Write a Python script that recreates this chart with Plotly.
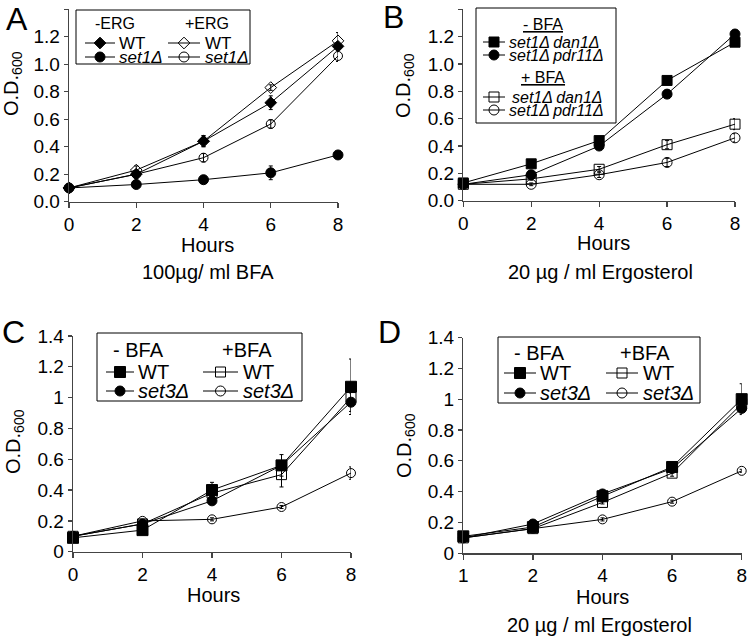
import plotly.graph_objects as go

W, H = 752, 639
FONT = "Liberation Sans, Arial, sans-serif"

# ---------------- data ----------------
hours_abc = [0, 2, 4, 6, 8]
hours_d = ["1", "2", "4", "6", "8"]
yticks_ab = [0, 0.2, 0.4, 0.6, 0.8, 1.0, 1.2, 1.4]
yticks_cd = [0, 0.2, 0.4, 0.6, 0.8, 1.0, 1.2, 1.4]

# Panel A (100 ug/ml BFA)
a_wt_minus = [0.10, 0.20, 0.44, 0.72, 1.13]
a_wt_minus_err = [0.01, 0.02, 0.04, 0.05, 0.03]
a_set1_minus = [0.10, 0.125, 0.16, 0.21, 0.34]
a_set1_minus_err = [0.01, 0.01, 0.01, 0.05, 0.02]
a_wt_plus = [0.10, 0.23, 0.44, 0.83, 1.17]
a_wt_plus_err = [0.01, 0.03, 0.04, 0.02, 0.06]
a_set1_plus = [0.10, 0.20, 0.32, 0.565, 1.06]
a_set1_plus_err = [0.01, 0.02, 0.03, 0.03, 0.04]

# Panel B (20 ug/ml Ergosterol)
b_dan1_minus = [0.13, 0.27, 0.44, 0.88, 1.16]
b_dan1_minus_err = [0.01, 0.02, 0.02, 0.02, 0.02]
b_pdr11_minus = [0.12, 0.19, 0.40, 0.78, 1.22]
b_pdr11_minus_err = [0.01, 0.02, 0.02, 0.02, 0.02]
b_dan1_plus = [0.12, 0.16, 0.23, 0.41, 0.56]
b_dan1_plus_err = [0.01, 0.01, 0.02, 0.03, 0.04]
b_pdr11_plus = [0.12, 0.12, 0.19, 0.28, 0.46]
b_pdr11_plus_err = [0.01, 0.01, 0.02, 0.03, 0.03]

# Panel C
c_wt_minus = [0.09, 0.14, 0.40, 0.56, 1.07]
c_wt_minus_err = [0.01, 0.02, 0.05, 0.07, 0.18]
c_set3_minus = [0.10, 0.18, 0.33, 0.56, 0.97]
c_set3_minus_err = [0.01, 0.01, 0.02, 0.03, 0.06]
c_wt_plus = [0.10, 0.18, 0.38, 0.50, 1.00]
c_wt_plus_err = [0.01, 0.01, 0.02, 0.08, 0.04]
c_set3_plus = [0.10, 0.20, 0.21, 0.29, 0.51]
c_set3_plus_err = [0.01, 0.01, 0.01, 0.01, 0.04]

# Panel D (20 ug/ml Ergosterol)
d_wt_minus = [0.11, 0.17, 0.37, 0.56, 1.00]
d_wt_minus_err = [0.01, 0.01, 0.02, 0.02, 0.10]
d_set3_minus = [0.10, 0.19, 0.385, 0.55, 0.94]
d_set3_minus_err = [0.01, 0.01, 0.01, 0.02, 0.02]
d_wt_plus = [0.10, 0.16, 0.33, 0.52, 0.97]
d_wt_plus_err = [0.01, 0.01, 0.01, 0.02, 0.02]
d_set3_plus = [0.10, 0.16, 0.22, 0.335, 0.535]
d_set3_plus_err = [0.01, 0.01, 0.01, 0.01, 0.01]

# ---------------- layout helpers (pixel -> paper) ----------------
def xd(p0, p1):
    return [p0 / W, p1 / W]

def yd(ptop, pbot):
    return [1 - pbot / H, 1 - ptop / H]

panels = {
    1: dict(x=xd(69, 338), y=yd(9.2, 201.7)),
    2: dict(x=xd(463.3, 735), y=yd(9.4, 200.7)),
    3: dict(x=xd(73, 351), y=yd(335.9, 551.7)),
    4: dict(x=xd(463.3, 741.7), y=yd(337.5, 553.3)),
}

fig = go.Figure()

def series(n, xs, ys, err, symbol, size):
    fig.add_trace(go.Scatter(
        x=xs, y=ys, mode="lines+markers",
        xaxis=f"x{n}" if n > 1 else "x", yaxis=f"y{n}" if n > 1 else "y",
        line=dict(color="black", width=1),
        marker=dict(symbol=symbol, size=size, color="black",
                    line=dict(color="black", width=1)),
        error_y=dict(type="data", array=err, color="black", thickness=1, width=2),
        cliponaxis=False, showlegend=False, hoverinfo="skip",
    ))

# Panel A
series(1, hours_abc, a_set1_minus, a_set1_minus_err, "circle", 10)
series(1, hours_abc, a_wt_minus, a_wt_minus_err, "diamond", 9)
series(1, hours_abc, a_wt_plus, a_wt_plus_err, "diamond-open", 9)
series(1, hours_abc, a_set1_plus, a_set1_plus_err, "circle-open", 9)
# Panel B
series(2, hours_abc, b_dan1_minus, b_dan1_minus_err, "square", 10)
series(2, hours_abc, b_pdr11_minus, b_pdr11_minus_err, "circle", 10)
series(2, hours_abc, b_dan1_plus, b_dan1_plus_err, "square-open", 10)
series(2, hours_abc, b_pdr11_plus, b_pdr11_plus_err, "circle-open", 10)
# Panel C
series(3, hours_abc, c_wt_minus, c_wt_minus_err, "square", 11)
series(3, hours_abc, c_set3_minus, c_set3_minus_err, "circle", 10)
series(3, hours_abc, c_wt_plus, c_wt_plus_err, "square-open", 10)
series(3, hours_abc, c_set3_plus, c_set3_plus_err, "circle-open", 9)
# Panel D
series(4, hours_d, d_wt_minus, d_wt_minus_err, "square", 11)
series(4, hours_d, d_set3_minus, d_set3_minus_err, "circle", 10)
series(4, hours_d, d_wt_plus, d_wt_plus_err, "square-open", 10)
series(4, hours_d, d_set3_plus, d_set3_plus_err, "circle-open", 9)

# ---------------- legend keys on an overlay pixel axis ----------------
def key(x0, x1, y, symbol, size):
    fig.add_trace(go.Scatter(
        x=[x0, x1], y=[y, y], mode="lines", xaxis="x5", yaxis="y5",
        line=dict(color="black", width=1), showlegend=False, hoverinfo="skip"))
    fig.add_trace(go.Scatter(
        x=[(x0 + x1) / 2], y=[y], mode="markers", xaxis="x5", yaxis="y5",
        marker=dict(symbol=symbol, size=size, color="black",
                    line=dict(color="black", width=1)),
        showlegend=False, hoverinfo="skip"))

shapes = []
annotations = []

def box(x0, y0, x1, y1):
    shapes.append(dict(type="rect", xref="x5", yref="y5", x0=x0, y0=y0, x1=x1, y1=y1,
                       line=dict(color="black", width=1), fillcolor="white", layer="below"))

def text(x, y, s, size=20, xanchor="center", angle=0):
    annotations.append(dict(x=x, y=y, xref="x5", yref="y5", text=s, showarrow=False,
                            xanchor=xanchor, yanchor="middle", textangle=angle,
                            font=dict(family=FONT, size=size, color="black")))

TS = "\u2009"

# Legend A
box(76, 10, 250, 64)
text(115, 23, "-ERG", 16)
text(207, 23, "+ERG", 16)
key(85, 115, 43, "diamond", 9)
text(117, 43, "WT", 17, "left")
key(85, 115, 57, "circle", 10)
text(117, 57, "<i>set1Δ</i>", 17, "left")
key(168, 200, 43, "diamond-open", 9)
text(203, 43, "WT", 17, "left")
key(168, 200, 57, "circle-open", 10)
text(203, 57, "<i>set1Δ</i>", 17, "left")

# Legend B
box(476, 8, 616, 123)
text(543, 24, "<u>- BFA</u>", 16)
key(483, 505, 42, "square", 10)
text(507, 42, "<i>set1Δ" + TS + "dan1Δ</i>", 16, "left")
key(483, 505, 55, "circle", 10)
text(507, 55, "<i>set1Δ" + TS + "pdr11Δ</i>", 16, "left")
text(543, 77, "<u>+ BFA</u>", 16)
key(483, 505, 97, "square-open", 10)
text(510, 97, "<i>set1Δ" + TS + "dan1Δ</i>", 16, "left")
key(483, 505, 110, "circle-open", 10)
text(507, 110, "<i>set1Δ" + TS + "pdr11Δ</i>", 16, "left")

# Legend C
box(97, 333, 302, 401)
text(138, 350, "- BFA", 20)
text(247, 350, "+BFA", 20)
key(106, 134, 372, "square", 11)
text(136, 372, "WT", 20, "left")
key(106, 134, 391, "circle", 10)
text(136, 391, "<i>set3Δ</i>", 20, "left")
key(203, 238, 372, "square-open", 10)
text(241, 372, "WT", 20, "left")
key(203, 238, 391, "circle-open", 10)
text(241, 391, "<i>set3Δ</i>", 20, "left")

# Legend D
box(498, 337, 700, 403)
text(539, 353, "- BFA", 20)
text(645, 353, "+BFA", 20)
key(504, 536, 373, "square", 11)
text(538, 373, "WT", 20, "left")
key(504, 536, 393, "circle", 10)
text(538, 393, "<i>set3Δ</i>", 20, "left")
key(606, 638, 373, "square-open", 10)
text(641, 373, "WT", 20, "left")
key(606, 638, 393, "circle-open", 10)
text(641, 393, "<i>set3Δ</i>", 20, "left")

# Panel letters
text(17, 19, "A", 32)
text(393, 17, "B", 32)
text(13, 332, "C", 32)
text(389, 332, "D", 32)

# Axis titles
ytitle = "O.D.<sub>600</sub>"
text(12, 84, ytitle, 20, angle=-90)
text(404, 86, ytitle, 20, angle=-90)
text(14, 442, ytitle, 20, angle=-90)
text(405, 446, ytitle, 20, angle=-90)
text(207, 245, "Hours", 20)
text(603, 243, "Hours", 20)
text(213, 595, "Hours", 20)
text(602, 597, "Hours", 20)
text(208, 272, "100µg/ ml BFA", 20)
text(600, 272, "20 µg / ml Ergosterol", 20)
text(599, 625, "20 µg / ml Ergosterol", 20)

# ---------------- axes ----------------
AX = "#444444"
axis_common = dict(showline=True, linecolor=AX, linewidth=1.3, ticks="outside",
                   ticklen=5, tickcolor=AX, tickwidth=1.3, showgrid=False,
                   zeroline=False, tickfont=dict(family=FONT, size=19, color="black"),
                   fixedrange=True, automargin=False)

layout = dict(width=W, height=H,
              margin=dict(l=0, r=0, t=0, b=0, pad=0, autoexpand=False),
              autosize=False,
              paper_bgcolor="white", plot_bgcolor="rgba(0,0,0,0)",
              showlegend=False, shapes=shapes, annotations=annotations,
              font=dict(family=FONT, color="black"))

for n, p in panels.items():
    xa = "xaxis" if n == 1 else f"xaxis{n}"
    ya = "yaxis" if n == 1 else f"yaxis{n}"
    yid = "y" if n == 1 else f"y{n}"
    xid = "x" if n == 1 else f"x{n}"
    if n == 4:
        xcfg = dict(type="category", categoryorder="array", categoryarray=hours_d,
                    range=[0, len(hours_d) - 1])
    else:
        xcfg = dict(range=[0, 8], tickvals=hours_abc)
    layout[xa] = dict(domain=p["x"], anchor=yid, **xcfg, **axis_common)
    ycfg = dict(range=[0, 1.4], domain=p["y"], anchor=xid, ticklen=4)
    if n in (1, 2):
        ycfg.update(tickvals=yticks_ab, tickformat=".1f")
    else:
        ycfg.update(tickvals=yticks_cd,
                    ticktext=[("%g" % v) for v in yticks_cd])
    cfg = dict(axis_common)
    cfg.update(ycfg)
    layout[ya] = cfg

layout["xaxis5"] = dict(domain=[0, 1], range=[0, W], anchor="y5", visible=False,
                        fixedrange=True, automargin=False)
layout["yaxis5"] = dict(domain=[0, 1], range=[H, 0], anchor="x5", visible=False,
                        fixedrange=True, automargin=False)

fig.update_layout(**layout)
fig.write_html(
    "out.html",
    config={"displayModeBar": False, "staticPlot": True},
    post_script="document.body.style.margin='0';document.body.style.padding='0';"
                "document.body.style.overflow='hidden';",
)
